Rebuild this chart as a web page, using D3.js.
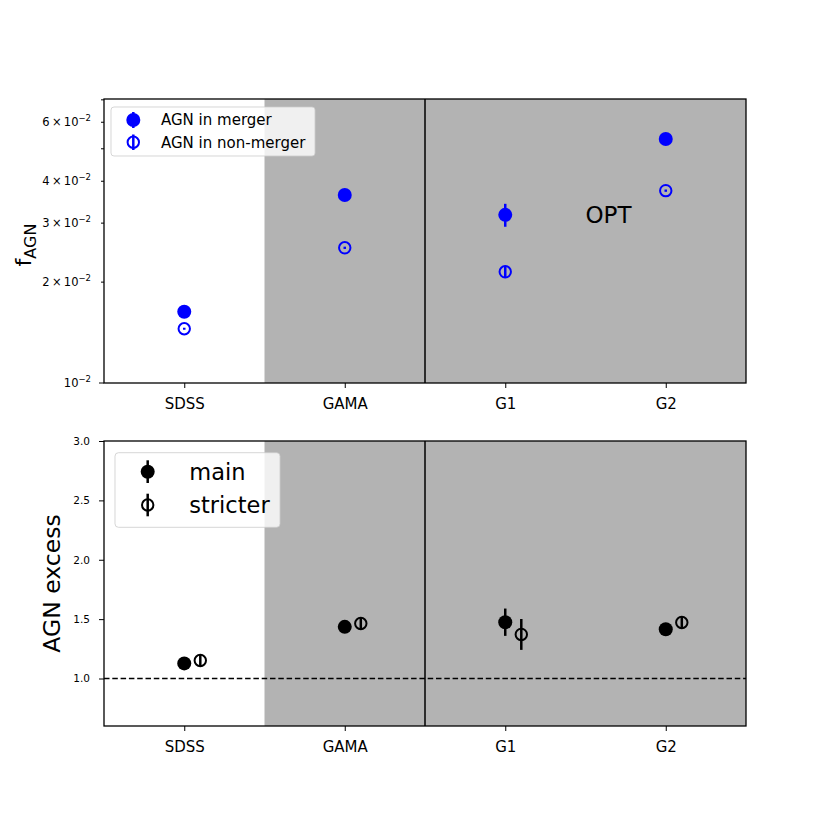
<!DOCTYPE html>
<html>
<head>
<meta charset="utf-8">
<script src="https://cdn.jsdelivr.net/npm/d3@7"></script>
<style>
body { margin:0; background:#fff; }
svg text { font-family: "DejaVu Sans", sans-serif; }
</style>
</head>
<body>
<svg id="chart" width="830" height="830"></svg>
<script>
// ---- data ----
const categories = ["SDSS", "GAMA", "G1", "G2"];
const mergerFrac = [0.01632, 0.0364, 0.03176, 0.0535];
const mergerErr = [0.0003, 0.0005, 0.0025, 0.0008];
const nonMergerFrac = [0.01452, 0.02532, 0.02147, 0.0375];
const nonMergerErr = [0.0001, 0.0002, 0.0009, 0.0003];
const excessMain = [1.127, 1.435, 1.474, 1.415];
const excessMainErr = [0.03, 0.03, 0.115, 0.04];
const excessStrict = [1.152, 1.463, 1.371, 1.472];
const excessStrictErr = [0.05, 0.05, 0.13, 0.05];
const topMinorTicks = [0.02, 0.03, 0.04, 0.05, 0.06, 0.07, 0.08, 0.09];
const topLabeledTicks = [0.02, 0.03, 0.04, 0.06];
const bottomTicks = [1.0, 1.5, 2.0, 2.5, 3.0];

const svg = d3.select("#chart");
const blue = "#0000ff";
const grey = "#b3b3b3";

const L = 104, R = 746;
const top1 = 99, bot1 = 383;
const top2 = 441, bot2 = 726;

const x = d3.scaleLinear().domain([-0.5, 3.5]).range([L, R]);
const y1 = d3.scaleLog().domain([0.01, 0.0704]).range([bot1, top1]);
const y2 = d3.scaleLinear().domain([0.6, 3.0]).range([bot2, top2]);

function panel(yScale, yTop, yBot) {
  const g = svg.append("g");
  g.append("rect").attr("x", x(0.5)).attr("y", yTop).attr("width", x(3.5) - x(0.5)).attr("height", yBot - yTop).attr("fill", grey);
  g.append("line").attr("x1", x(1.5)).attr("x2", x(1.5)).attr("y1", yTop).attr("y2", yBot).attr("stroke", "#000").attr("stroke-width", 1.5);
  return g;
}

function xAxis(yBot) {
  const ax = d3.axisBottom(x).tickValues([0, 1, 2, 3]).tickFormat(i => categories[i]).tickSize(5).tickSizeOuter(0);
  const g = svg.append("g").attr("transform", `translate(0,${yBot})`).call(ax);
  g.select(".domain").remove();
  g.selectAll(".tick line").attr("stroke", "#000").attr("stroke-width", 1);
  g.selectAll(".tick text").attr("font-size", 15).attr("fill", "#000").attr("y", 26).attr("dy", null).attr("font-family", "DejaVu Sans");
}

function frame(yTop, yBot) {
  svg.append("rect").attr("x", L).attr("y", yTop).attr("width", R - L).attr("height", yBot - yTop)
    .attr("fill", "none").attr("stroke", "#000").attr("stroke-width", 1.3);
}

function errorbars(g, xs, vals, errs, yScale, color, filled, r) {
  xs.forEach((xv, i) => {
    g.append("line").attr("x1", x(xv)).attr("x2", x(xv))
      .attr("y1", yScale(vals[i] - errs[i])).attr("y2", yScale(vals[i] + errs[i]))
      .attr("stroke", color).attr("stroke-width", 2.5);
    if (filled) {
      g.append("circle").attr("cx", x(xv)).attr("cy", yScale(vals[i])).attr("r", r).attr("fill", color);
    } else {
      g.append("circle").attr("cx", x(xv)).attr("cy", yScale(vals[i])).attr("r", r - 1).attr("fill", "none")
        .attr("stroke", color).attr("stroke-width", 2);
    }
  });
}

// ---------------- top panel ----------------
const g1 = panel(y1, top1, bot1);
const idx = categories.map((c, i) => i);
errorbars(g1, idx, mergerFrac, mergerErr, y1, blue, true, 7);
errorbars(g1, idx, nonMergerFrac, nonMergerErr, y1, blue, false, 6.7);

g1.append("text").attr("x", x(2.5)).attr("y", y1(0.03)).attr("font-size", 23).attr("fill", "#000").text("OPT");

frame(top1, bot1);
xAxis(bot1);

const yt = svg.append("g");
yt.append("line").attr("x1", L).attr("x2", L - 5).attr("y1", y1(0.01)).attr("y2", y1(0.01)).attr("stroke", "#000");
topMinorTicks.filter(v => v <= y1.domain()[1]).forEach(v => {
  yt.append("line").attr("x1", L).attr("x2", L - 3).attr("y1", y1(v)).attr("y2", y1(v)).attr("stroke", "#000");
});
function sciLabel(yPos, mant) {
  const t = yt.append("text").attr("x", L - 13).attr("y", yPos + 4).attr("text-anchor", "end").attr("font-size", 11.5).attr("fill", "#000");
  if (mant) {
    t.append("tspan").text(mant + "\u2009\u00d7\u200910");
  } else {
    t.append("tspan").text("10");
  }
  t.append("tspan").attr("dy", -5).attr("font-size", 8.5).text("\u22122");
}
topLabeledTicks.forEach(v => sciLabel(y1(v), String(Math.round(v * 100))));
sciLabel(y1(0.01), null);

const yl1 = svg.append("text").attr("transform", `translate(31,${(top1 + bot1) / 2 + 4}) rotate(-90)`)
  .attr("text-anchor", "middle").attr("font-size", 22).attr("fill", "#000");
yl1.append("tspan").text("f");
yl1.append("tspan").attr("font-size", 16).attr("dy", 5).text("AGN");

// legend top
const lg1 = svg.append("g");
lg1.append("rect").attr("x", 111).attr("y", 107).attr("width", 204).attr("height", 49).attr("rx", 3)
  .attr("fill", "#fff").attr("fill-opacity", 0.8).attr("stroke", "#cccccc").attr("stroke-opacity", 0.8);
lg1.append("line").attr("x1", 133.3).attr("x2", 133.3).attr("y1", 112).attr("y2", 128).attr("stroke", blue).attr("stroke-width", 2.5);
lg1.append("circle").attr("cx", 133.3).attr("cy", 120).attr("r", 7).attr("fill", blue);
lg1.append("line").attr("x1", 133.3).attr("x2", 133.3).attr("y1", 134.5).attr("y2", 150).attr("stroke", blue).attr("stroke-width", 2.5);
lg1.append("circle").attr("cx", 133.3).attr("cy", 142.3).attr("r", 5.7).attr("fill", "none").attr("stroke", blue).attr("stroke-width", 2);
lg1.append("text").attr("x", 161).attr("y", 125.3).attr("font-size", 15).attr("fill", "#000").text("AGN in merger");
lg1.append("text").attr("x", 161).attr("y", 147.6).attr("font-size", 15).attr("fill", "#000").text("AGN in non-merger");

// ---------------- bottom panel ----------------
const g2 = panel(y2, top2, bot2);
g2.append("line").attr("x1", L).attr("x2", R).attr("y1", y2(1.0)).attr("y2", y2(1.0))
  .attr("stroke", "#000").attr("stroke-width", 1.6).attr("stroke-dasharray", "5.5,2.8");
errorbars(g2, idx, excessMain, excessMainErr, y2, "#000", true, 7);
errorbars(g2, idx.map(i => i + 0.1), excessStrict, excessStrictErr, y2, "#000", false, 6.7);

frame(top2, bot2);
xAxis(bot2);

const ya2 = d3.axisLeft(y2).tickValues(bottomTicks).tickFormat(d3.format(".1f")).tickSize(5);
const gy2 = svg.append("g").attr("transform", `translate(${L},0)`).call(ya2);
gy2.select(".domain").remove();
gy2.selectAll(".tick line").attr("stroke", "#000");
gy2.selectAll(".tick text").attr("font-size", 10.5).attr("fill", "#000").attr("x", -14).attr("font-family", "DejaVu Sans");

svg.append("text").attr("transform", `translate(60,${(top2 + bot2) / 2}) rotate(-90)`)
  .attr("text-anchor", "middle").attr("font-size", 23.5).attr("fill", "#000").text("AGN excess");

// legend bottom
const lg2 = svg.append("g");
lg2.append("rect").attr("x", 115).attr("y", 452.7).attr("width", 165).attr("height", 74.6).attr("rx", 3.5)
  .attr("fill", "#fff").attr("fill-opacity", 0.8).attr("stroke", "#cccccc").attr("stroke-opacity", 0.8);
lg2.append("line").attr("x1", 147.7).attr("x2", 147.7).attr("y1", 460.3).attr("y2", 483).attr("stroke", "#000").attr("stroke-width", 2.5);
lg2.append("circle").attr("cx", 147.7).attr("cy", 471.7).attr("r", 7).attr("fill", "#000");
lg2.append("line").attr("x1", 147.7).attr("x2", 147.7).attr("y1", 493.7).attr("y2", 516.3).attr("stroke", "#000").attr("stroke-width", 2.5);
lg2.append("circle").attr("cx", 147.7).attr("cy", 505).attr("r", 5.7).attr("fill", "none").attr("stroke", "#000").attr("stroke-width", 2);
lg2.append("text").attr("x", 189.3).attr("y", 479.5).attr("font-size", 22.5).attr("fill", "#000").text("main");
lg2.append("text").attr("x", 189.3).attr("y", 513).attr("font-size", 22.5).attr("fill", "#000").text("stricter");
</script>
</body>
</html>
